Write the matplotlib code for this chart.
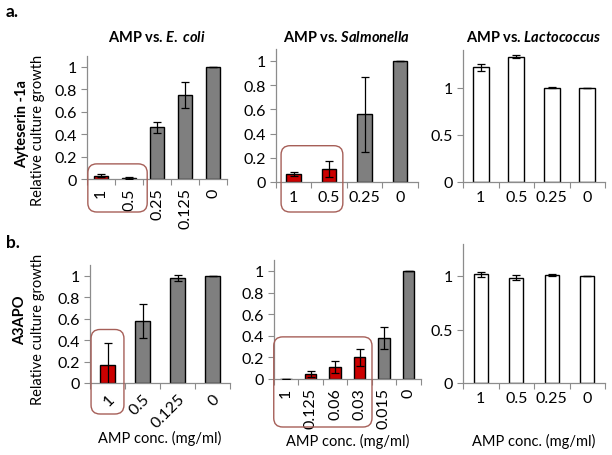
import numpy as np
import matplotlib
matplotlib.use("Agg")
import matplotlib.pyplot as plt
from matplotlib.patches import FancyBboxPatch
from matplotlib.transforms import IdentityTransform

plt.rcParams['font.family'] = ['Lato', 'DejaVu Sans']
plt.rcParams['mathtext.fontset'] = 'custom'
plt.rcParams['mathtext.it'] = 'Lato:italic:bold'
plt.rcParams['mathtext.rm'] = 'Lato:bold'

# --- data ---
ecoli_a_conc = ['1', '0.5', '0.25', '0.125', '0']
ecoli_a_val = [0.03, 0.01, 0.46, 0.75, 1.0]
ecoli_a_err = [0.012, 0.006, 0.05, 0.12, 0.0]

salm_a_conc = ['1', '0.5', '0.25', '0']
salm_a_val = [0.065, 0.105, 0.56, 1.0]
salm_a_err = [0.015, 0.065, 0.31, 0.0]

lacto_a_conc = ['1', '0.5', '0.25', '0']
lacto_a_val = [1.22, 1.335, 1.005, 1.0]
lacto_a_err = [0.035, 0.012, 0.006, 0.0]

ecoli_b_conc = ['1', '0.5', '0.125', '0']
ecoli_b_val = [0.17, 0.58, 0.98, 1.0]
ecoli_b_err = [0.2, 0.155, 0.03, 0.0]

salm_b_conc = ['1', '0.125', '0.06', '0.03', '0.015', '0']
salm_b_val = [0.003, 0.045, 0.115, 0.2, 0.38, 1.0]
salm_b_err = [0.0, 0.03, 0.055, 0.08, 0.1, 0.0]

lacto_b_conc = ['1', '0.5', '0.25', '0']
lacto_b_val = [1.015, 0.985, 1.01, 1.0]
lacto_b_err = [0.025, 0.025, 0.012, 0.0]

RED = '#cc0000'
GREY = '#7f7f7f'
BOX = '#a65f58'
AXC = '#8c8c8c'
TICK_FS = 11.5

W, H = 612, 456
fig = plt.figure(figsize=(W / 100, H / 100), dpi=100)


def make_axes(left, right, y0, unit, ymax):
    # pixel layout -> figure fraction
    h = unit * ymax
    return fig.add_axes([left / W, (H - y0) / H, (right - left) / W, h / H])


def bar_panel(ax, conc, vals, errs, colors, width, ymax, yticks, rot):
    x = np.arange(len(conc))
    ax.bar(x, vals, width=width, color=colors, edgecolor='black', linewidth=1.0, zorder=2)
    ax.errorbar(x, vals, yerr=errs, fmt='none', ecolor='black', elinewidth=0.9,
                capsize=3, capthick=0.9, zorder=3)
    ax.set_xlim(-0.5, len(conc) - 0.5)
    ax.set_ylim(0, ymax)
    ax.set_yticks(yticks)
    ax.set_yticklabels([('%g' % t) for t in yticks])
    ax.set_xticks(x)
    ax.set_xticks(np.arange(len(conc) + 1) - 0.5, minor=True)
    if rot == 90:
        ax.set_xticklabels(conc, rotation=90, va='top', ha='center')
    elif rot == 45:
        ax.set_xticklabels(conc, rotation=45, ha='right', rotation_mode='anchor')
    else:
        ax.set_xticklabels(conc)
    ax.tick_params(axis='x', which='major', length=0, pad=6, labelsize=TICK_FS)
    ax.tick_params(axis='x', which='minor', length=4, width=0.8, color=AXC, direction='out')
    ax.tick_params(axis='y', length=4, width=0.8, color=AXC, labelsize=TICK_FS, pad=3)
    for s in ['top', 'right']:
        ax.spines[s].set_visible(False)
    for s in ['left', 'bottom']:
        ax.spines[s].set_color(AXC)
        ax.spines[s].set_linewidth(0.9)
    ax.set_facecolor('none')


def highlight(ax, x_lo, x_hi, y_top, below_px):
    # rounded box in pixel space around the highlighted bars and labels
    p0 = ax.transData.transform((x_lo, y_top))
    p1 = ax.transData.transform((x_hi, 0))
    box = FancyBboxPatch((p0[0], p1[1] - below_px), p1[0] - p0[0], p0[1] - p1[1] + below_px,
                         boxstyle='round,pad=0,rounding_size=9', transform=IdentityTransform(),
                         facecolor='none', edgecolor=BOX, linewidth=1.0, zorder=5)
    fig.patches.append(box)


def title(ax, species, y_px):
    pos = ax.get_position()
    fig.text((pos.x0 + pos.x1) / 2, 1 - y_px / H,
             r'AMP vs. $\it{' + species.replace(' ', r'\;') + '}$',
             fontsize=10.5, fontweight='bold', ha='center', va='center')


yt = [0, 0.2, 0.4, 0.6, 0.8, 1]

# --- row a ---
ax1 = make_axes(87, 227, 180, 112, 1.1)
bar_panel(ax1, ecoli_a_conc, ecoli_a_val, ecoli_a_err, [RED, RED, GREY, GREY, GREY], 0.5, 1.1, yt, 90)
highlight(ax1, -0.47, 1.65, 0.135, 33)

ax2 = make_axes(275.75, 417.75, 183, 121, 1.1)
bar_panel(ax2, salm_a_conc, salm_a_val, salm_a_err, [RED, RED, GREY, GREY], 0.42, 1.1, yt, 0)
highlight(ax2, -0.35, 1.39, 0.30, 30)

ax3 = make_axes(463, 605, 183, 94, 1.4)
bar_panel(ax3, lacto_a_conc, lacto_a_val, lacto_a_err, ['white'] * 4, 0.45, 1.4, [0, 0.5, 1], 0)

# --- row b ---
ax4 = make_axes(90, 230, 384, 107, 1.1)
bar_panel(ax4, ecoli_b_conc, ecoli_b_val, ecoli_b_err, [RED, GREY, GREY, GREY], 0.42, 1.1, yt, 45)
highlight(ax4, -0.47, 0.47, 0.50, 31)

ax5 = make_axes(273.75, 420.75, 380, 108, 1.1)
bar_panel(ax5, salm_b_conc, salm_b_val, salm_b_err, [RED, RED, RED, RED, GREY, GREY], 0.45, 1.1, yt, 90)
highlight(ax5, -0.5, 3.51, 0.39, 48)

ax6 = make_axes(463, 605, 384, 107, 1.3)
bar_panel(ax6, lacto_b_conc, lacto_b_val, lacto_b_err, ['white'] * 4, 0.4, 1.3, [0, 0.5, 1], 0)

title(ax1, 'E. coli', 38)
title(ax2, 'Salmonella', 38)
title(ax3, 'Lactococcus', 38)

# panel letters and row labels
fig.text(6 / W, 1 - 12 / H, 'a.', fontsize=12.5, fontweight='bold', va='center')
fig.text(6 / W, 1 - 243 / H, 'b.', fontsize=12.5, fontweight='bold', va='center')

fig.text(22 / W, 1 - 124 / H, 'Ayteserin -1a', rotation=90, fontsize=10.5, fontweight='bold',
         ha='center', va='center')
fig.text(38 / W, 1 - 130 / H, 'Relative culture growth', rotation=90, fontsize=10.5,
         ha='center', va='center')
fig.text(20 / W, 1 - 320 / H, 'A3APO', rotation=90, fontsize=10.5, fontweight='bold',
         ha='center', va='center')
fig.text(38 / W, 1 - 329 / H, 'Relative culture growth', rotation=90, fontsize=10.5,
         ha='center', va='center')

for ax, yy in [(ax4, 438), (ax5, 441), (ax6, 441)]:
    pos = ax.get_position()
    fig.text((pos.x0 + pos.x1) / 2, 1 - yy / H, 'AMP conc. (mg/ml)', fontsize=10.5,
             ha='center', va='center')

fig.savefig('out.png', dpi=100)
